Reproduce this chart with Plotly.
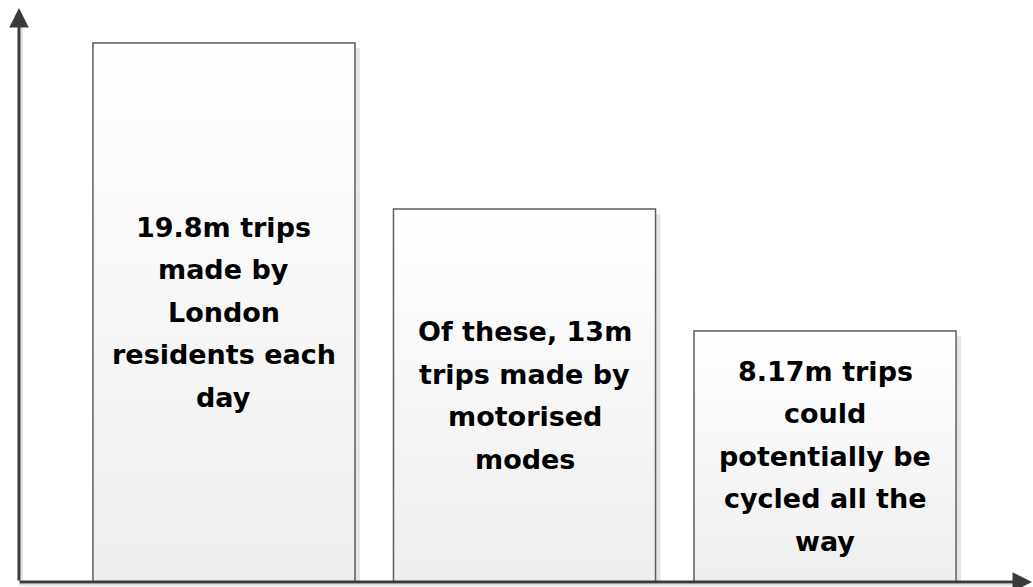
import plotly.graph_objects as go

# Data
categories = [0, 1, 2]
values = [19.8, 13.7, 9.22]  # drawn bar heights (million trips scale)
labels = [
    ["19.8m trips", "made by", "London", "residents each", "day"],
    ["Of these, 13m", "trips made by", "motorised", "modes"],
    ["8.17m trips", "could", "potentially be", "cycled all the", "way"],
]

W, H = 1033, 587
ML, MR, MT, MB = 19, 3, 10, 5
PW, PH = W - ML - MR, H - MT - MB
XR = [-0.682, 2.682]
YR = [0, 21.01]
px_x = (XR[1] - XR[0]) / PW
px_y = (YR[1] - YR[0]) / PH
BW = 0.872

fig = go.Figure()

# shadows
for c, v in zip(categories, values):
    x0, x1 = c - BW / 2 + 5 * px_x, c + BW / 2 + 5 * px_x
    y0, y1 = 0, v - 5 * px_y
    fig.add_trace(go.Scatter(
        x=[x0, x1, x1, x0, x0], y=[y0, y0, y1, y1, y0],
        mode="lines", fill="toself", fillcolor="#e6e6e6",
        line=dict(width=0), hoverinfo="skip", showlegend=False))

# bars with vertical gradient
for c, v in zip(categories, values):
    x0, x1 = c - BW / 2, c + BW / 2
    fig.add_trace(go.Scatter(
        x=[x0, x1, x1, x0, x0], y=[0, 0, v, v, 0],
        mode="lines", fill="toself",
        fillgradient=dict(type="vertical",
                          colorscale=[[0, "#eeeeee"], [1, "#ffffff"]]),
        line=dict(color="#5e5e5e", width=1.5),
        hoverinfo="skip", showlegend=False))

# labels
LINE = 42.5
for c, v, lines in zip(categories, values, labels):
    mid = (len(lines) - 1) / 2
    for i, t in enumerate(lines):
        fig.add_annotation(x=c, y=v / 2, xref="x", yref="y", text=t,
                           showarrow=False, yshift=(mid - i) * LINE,
                           font=dict(family="DejaVu Sans", size=27,
                                     color="#000000", weight="bold"))

# axis shadows
fig.add_shape(type="line", xref="paper", yref="paper",
              x0=3 / PW, x1=3 / PW, y0=-3 / PH, y1=1 - 16 / PH,
              line=dict(color="#e2e2e2", width=2))
fig.add_shape(type="line", xref="paper", yref="paper",
              x0=0, x1=1 - 16 / PW, y0=-3 / PH, y1=-3 / PH,
              line=dict(color="#e2e2e2", width=2))

# axes with arrows
fig.add_annotation(xref="paper", yref="paper", x=0, y=1 + 2 / PH,
                   ax=0, ay=PH + 2, text="", showarrow=True,
                   arrowhead=2, arrowsize=1.3, arrowwidth=3,
                   arrowcolor="#3a3a3a")
fig.add_annotation(xref="paper", yref="paper", x=1 + 3 / PW, y=0,
                   ax=-(PW + 4), ay=0, text="", showarrow=True,
                   arrowhead=2, arrowsize=1.3, arrowwidth=3,
                   arrowcolor="#3a3a3a")

fig.update_layout(
    width=W, height=H, autosize=False,
    margin=dict(l=ML, r=MR, t=MT, b=MB),
    paper_bgcolor="white", plot_bgcolor="white",
    xaxis=dict(range=XR, visible=False, fixedrange=True),
    yaxis=dict(range=YR, visible=False, fixedrange=True),
    showlegend=False,
)

fig.write_html(
    "out.html",
    config={"displayModeBar": False},
    post_script="document.body.style.margin='0';document.body.style.overflow='hidden';",
)
